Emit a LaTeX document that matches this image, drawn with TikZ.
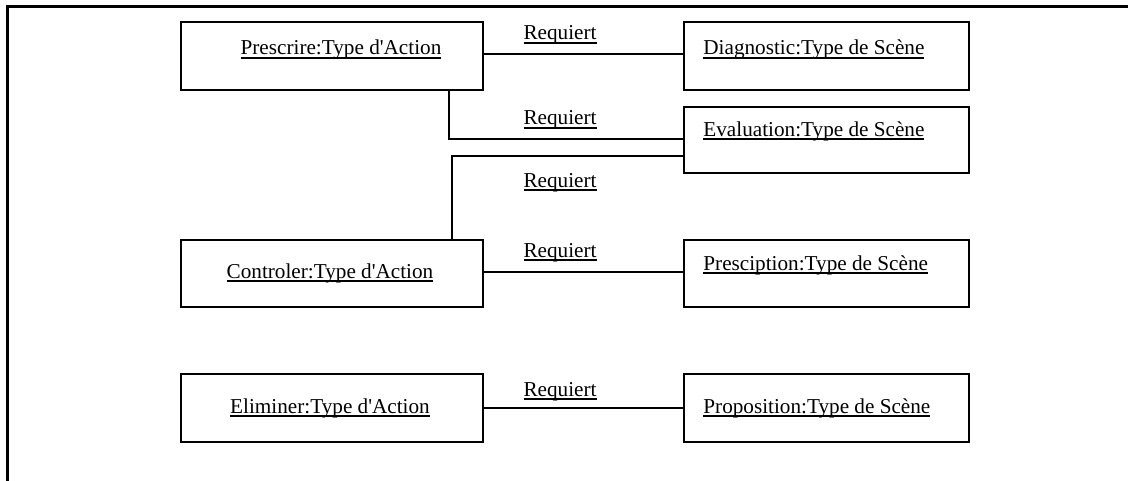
\documentclass[tikz,border=0pt]{standalone}
\usepackage{fontspec}
\setmainfont{Liberation Serif}
\usetikzlibrary{positioning,calc}

% underlined object name, rule close to the baseline
\newcommand{\umlname}[1]{\setbox0\hbox{#1}\leavevmode\rlap{\rule[-1.8pt]{\wd0}{0.9pt}}\box0}

\tikzset{
  objbox/.style={draw, line width=1pt, minimum height=34pt, inner sep=0pt},
  actbox/.style={objbox, minimum width=151pt},
  scenebox/.style={objbox, minimum width=142.5pt},
  objname/.style={inner sep=0pt, font=\fontsize{10.6}{13}\selectfont},
  link/.style={line width=0.9pt},
}

\begin{document}
\begin{tikzpicture}[x=0.5pt,y=-0.5pt]
  \useasboundingbox (0,0) rectangle (1128,481);

  % Frame
  \draw[line width=1.5pt] (1128,7) -- (7,7) -- (7,481);

  % Prescrire
  \node[actbox] (prescrire) at (332,56) {};
  \node[objname, anchor=base] (prescrire-name) at (341,55) {\umlname{Prescrire:Type d\textquotesingle Action}};

  % Diagnostic
  \node[scenebox] (diagnostic) at (826.5,56) {};
  \node[objname, anchor=base west] (diagnostic-name) at (703,55) {\umlname{Diagnostic:Type de Scène}};

  % Evaluation
  \node[scenebox, minimum height=33pt] (evaluation) at (826.5,140) {};
  \node[objname, anchor=base west] (evaluation-name) at (703,136) {\umlname{Evaluation:Type de Scène}};

  % Controler
  \node[actbox, minimum height=33.5pt] (controler) at (332,273.5) {};
  \node[objname, anchor=base] (controler-name) at (330,278) {\umlname{Controler:Type d\textquotesingle Action}};

  % Presciption
  \node[scenebox, minimum height=33.5pt] (presciption) at (826.5,273.5) {};
  \node[objname, anchor=base west] (presciption-name) at (703,270) {\umlname{Presciption:Type de Scène}};

  % Eliminer
  \node[actbox] (eliminer) at (332,408) {};
  \node[objname, anchor=base] (eliminer-name) at (330,413) {\umlname{Eliminer:Type d\textquotesingle Action}};

  % Proposition
  \node[scenebox] (proposition) at (826.5,408) {};
  \node[objname, anchor=base west] (proposition-name) at (703,413) {\umlname{Proposition:Type de Scène}};

  % Requiert links
  \draw[link] ([yshift=1pt]prescrire.east) -- ([yshift=1pt]diagnostic.west);
  \node[objname, anchor=base] (req-diag) at (560,40) {\umlname{Requiert}};

  \draw[link] ([xshift=58.5pt]prescrire.south) |- ([yshift=0.5pt]evaluation.west);
  \node[objname, anchor=base] (req-eval) at (560,125) {\umlname{Requiert}};

  \draw[link] ([xshift=60pt]controler.north) |- ([yshift=-8pt]evaluation.west);
  \node[objname, anchor=base] (req-ctrl) at (560,187) {\umlname{Requiert}};

  \draw[link] ([yshift=0.75pt]controler.east) -- ([yshift=0.75pt]presciption.west);
  \node[objname, anchor=base] (req-presc) at (560,257) {\umlname{Requiert}};

  \draw[link] (eliminer.east) -- (proposition.west);
  \node[objname, anchor=base] (req-prop) at (560,396) {\umlname{Requiert}};
\end{tikzpicture}
\end{document}
